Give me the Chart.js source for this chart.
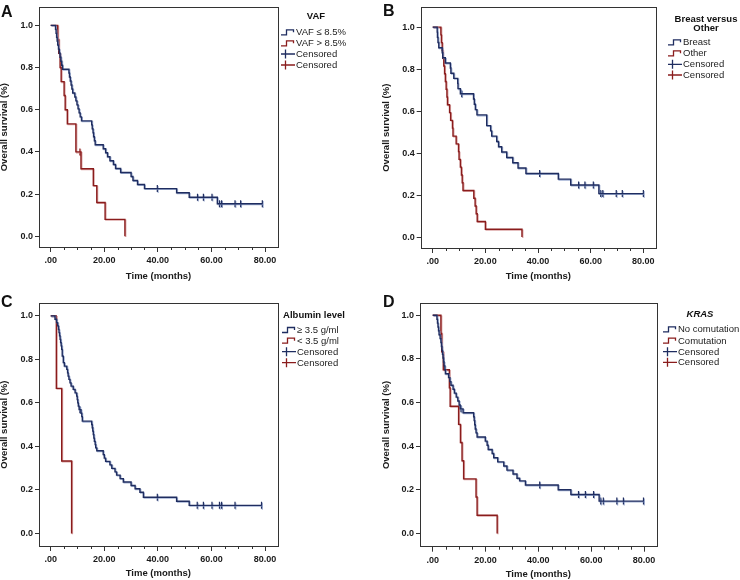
<!DOCTYPE html>
<html>
<head>
<meta charset="utf-8">
<script src="https://cdn.jsdelivr.net/npm/chart.js@4.4.0/dist/chart.umd.min.js"></script>
<style>
body { margin: 0; background: #fff; }
#wrap { position: relative; width: 740px; height: 580px; }
canvas { position: absolute; }
</style>
</head>
<body>
<div id="wrap">
<canvas id="cA" width="370" height="290" style="left:0;top:0"></canvas>
<canvas id="cB" width="370" height="290" style="left:370px;top:0"></canvas>
<canvas id="cC" width="370" height="290" style="left:0;top:290px"></canvas>
<canvas id="cD" width="370" height="290" style="left:370px;top:290px"></canvas>
</div>
<script>
// ---- data (months, survival fraction) ----
var xTicks = [0, 20, 40, 60, 80];
var yTicks = [0, 0.2, 0.4, 0.6, 0.8, 1.0];

// A - VAF
var aTitle = ['VAF'];
var aLabels = ['VAF \u2264 8.5%', 'VAF > 8.5%', 'Censored', 'Censored'];
var aBlueTime = [1.8,2.0,2.2,2.4,2.6,2.9,3.2,3.5,3.8,4.1,4.4, 6.8,7.0,7.3,7.6,7.9,8.2,9.0,9.4,9.8,10.2,10.6,11.0,11.5, 15.3,15.5,15.8,16.0,16.3,16.6, 19.6,20.5,21.2,22.1,23.4,24.2,26.1, 30.0,30.7,32.4,35.0, 47.0,51.7,62.2];
var aBlueSurv = [0.981,0.962,0.943,0.925,0.906,0.887,0.868,0.849,0.830,0.811,0.792, 0.774,0.755,0.736,0.717,0.698,0.679,0.660,0.642,0.623,0.604,0.585,0.566,0.547, 0.528,0.509,0.491,0.472,0.453,0.434, 0.415,0.396,0.377,0.358,0.340,0.321,0.302, 0.283,0.264,0.245,0.226, 0.206,0.185,0.154];
var aBlueCens = [39.8,54.8,57.0,60.2,63.0,63.8,68.8,70.9,79.0];
var aRedTime = [2.6,3.0,3.5,3.9,5.0,5.4,6.2,9.4,11.3,15.9,17.2,20.3,27.7];
var aRedSurv = [0.933,0.867,0.800,0.733,0.667,0.600,0.533,0.400,0.320,0.240,0.160,0.080,0];
var aRedCens = [10.9];

// B - Breast versus Other
var bTitle = ['Breast versus', 'Other'];
var bLabels = ['Breast', 'Other', 'Censored', 'Censored'];
var bBlueTime = [1.7,1.8,2.0,2.3,3.6,3.8,4.8,6.7,6.9,8.0,9.5,9.6,10.5, 15.5,15.8,16.2,16.8, 20.5,22.0,22.4,24.3,25.0,26.2,28.1,30.4,32.4,35.4, 47.7,52.4,63.1];
var bBlueSurv = [0.976,0.951,0.927,0.902,0.878,0.854,0.829,0.805,0.780,0.756,0.732,0.707,0.683, 0.658,0.633,0.607,0.582, 0.531,0.506,0.481,0.455,0.430,0.405,0.379,0.354,0.329,0.303, 0.276,0.248,0.207];
var bBlueCens = [11.0,40.6,55.4,57.8,61.0,63.8,64.6,69.7,72.0,80.0];
var bRedTime = [3.1,3.3,3.6,3.8,4.2,4.5,4.8,5.1,5.4,5.6,6.4,6.8,7.5,7.7,8.9,9.8,10.0,10.5,10.9,11.2,11.5,15.6,16.1,16.5,16.9,20.0,33.9];
var bRedSurv = [0.963,0.926,0.889,0.852,0.815,0.778,0.741,0.704,0.667,0.630,0.593,0.556,0.519,0.481,0.444,0.407,0.370,0.333,0.296,0.259,0.222,0.185,0.148,0.111,0.074,0.037,0];
var bRedCens = [];

// C - Albumin level
var cTitle = ['Albumin level'];
var cLabels = ['\u2265 3.5 g/ml', '< 3.5 g/ml', 'Censored', 'Censored'];
var cBlueTime = [1.6,2.2,2.6,2.9,3.1,3.3,3.5,3.7,3.9,4.1,4.3,4.7,5.1, 6.0,6.3,6.5,6.8,7.2,7.6, 8.4,9.1,9.7,9.9,10.1,10.3,10.6, 11.3,11.6,11.8, 15.3,15.5,15.7,15.9,16.1,16.3,16.6,16.8,17.2, 19.6,20.0,20.5, 22.1,22.8,24.0,24.6,25.9,27.1,30.0,31.5,33.3,34.6, 47.0,51.7];
var cBlueSurv = [0.985,0.969,0.954,0.938,0.923,0.908,0.892,0.877,0.862,0.846,0.815,0.785,0.769, 0.754,0.738,0.723,0.708,0.692,0.677, 0.662,0.646,0.631,0.615,0.600,0.585,0.569, 0.553,0.537,0.516, 0.501,0.486,0.470,0.454,0.438,0.423,0.408,0.393,0.380, 0.362,0.346,0.331, 0.315,0.299,0.283,0.268,0.252,0.236,0.220,0.205,0.189,0.166, 0.148,0.129];
var cBlueCens = [10.9,39.8,54.7,57.0,60.2,63.0,63.8,68.8,78.7];
var cRedTime = [2.1,4.1,7.8];
var cRedSurv = [0.667,0.333,0];
var cRedCens = [];

// D - KRAS
var dTitle = ['KRAS'];
var dLabels = ['No comutation', 'Comutation', 'Censored', 'Censored'];
var dBlueTime = [1.6,1.8,2.0,2.2,2.4,2.8,3.1,3.3,3.5,3.7,3.9,4.1,4.3,4.6,4.8, 6.0,6.5,6.9,7.7,8.2,8.9,9.5,10.0,10.4, 11.5, 15.5,15.7,15.9,16.1,16.4,16.8, 19.9,20.6,21.0,22.5,23.1,24.6,26.9,28.1,30.4,31.9,32.9,35.1, 47.5,52.3,63.0];
var dBlueSurv = [0.982,0.964,0.946,0.929,0.911,0.893,0.875,0.857,0.839,0.821,0.804,0.786,0.768,0.750,0.732, 0.714,0.696,0.679,0.661,0.643,0.625,0.607,0.589,0.571, 0.553, 0.535,0.517,0.498,0.479,0.461,0.442, 0.423,0.404,0.385,0.366,0.347,0.328,0.309,0.290,0.272,0.253,0.241,0.222, 0.200,0.178,0.148];
var dBlueCens = [10.7,40.5,55.2,57.8,60.9,63.6,64.6,69.7,72.2,79.8];
var dRedTime = [3.1,3.4,4.0,6.3,6.6,9.8,10.5,11.1,11.7,16.4,16.8,24.4];
var dRedSurv = [0.917,0.833,0.750,0.667,0.583,0.500,0.417,0.333,0.250,0.167,0.083,0];
var dRedCens = [];

// ---- styling ----
var BLUE = '#1f2d60';
var RED = '#8a1c1c';
var FONT = '"Liberation Sans", Arial, sans-serif';

// step curve: starts at (0,1), ends at last event or last censor
function kmLine(times, surv, cens) {
    var pts = [{ x: 0, y: 1 }];
    for (var i = 0; i < times.length; i++) pts.push({ x: times[i], y: surv[i] });
    var lastS = surv.length ? surv[surv.length - 1] : 1;
    var endT = pts[pts.length - 1].x;
    cens.forEach(function (c) { if (c > endT) endT = c; });
    if (endT > pts[pts.length - 1].x) pts.push({ x: endT, y: lastS });
    return pts;
}
function survAt(times, surv, t) {
    var s = 1;
    for (var i = 0; i < times.length; i++) if (times[i] <= t) s = surv[i];
    return s;
}
function censPoints(times, surv, cens) {
    return cens.map(function (c) { return { x: c, y: survAt(times, surv, c) }; });
}

// frame, minor ticks, panel letter, legend
var kmDecor = {
    id: 'kmDecor',
    beforeDatasetDraw: function (chart, args) {
        var ctx = chart.ctx;
        ctx.save();
        ctx.shadowColor = (args.index % 2 === 0) ? 'rgba(130,150,195,0.75)' : 'rgba(205,135,135,0.75)';
        ctx.shadowOffsetX = 0.8;
        ctx.shadowOffsetY = 0.8;
        ctx.shadowBlur = 0;
    },
    afterDatasetDraw: function (chart) { chart.ctx.restore(); },
    afterDraw: function (chart, args, o) {
        var ctx = chart.ctx, a = chart.chartArea, xs = chart.scales.x;
        ctx.save();
        ctx.strokeStyle = '#333';
        ctx.lineWidth = 1;
        ctx.strokeRect(Math.round(a.left) + 0.5, Math.round(a.top) + 0.5,
            Math.round(a.right - a.left), Math.round(a.bottom - a.top));
        // minor ticks every 5 months
        ctx.beginPath();
        for (var v = 5; v < 80; v += 5) {
            if (v % 20 === 0) continue;
            var px = Math.round(xs.getPixelForValue(v)) + 0.5;
            ctx.moveTo(px, a.bottom);
            ctx.lineTo(px, a.bottom + 3);
        }
        ctx.stroke();
        // panel letter
        ctx.fillStyle = '#111';
        ctx.font = 'bold 16px ' + FONT;
        ctx.textAlign = 'left';
        ctx.textBaseline = 'alphabetic';
        ctx.fillText(o.letter, o.letterX, o.letterY);
        // legend title
        ctx.font = (o.italic ? 'italic ' : '') + 'bold 9.5px ' + FONT;
        ctx.textAlign = 'center';
        ctx.textBaseline = 'middle';
        o.title.forEach(function (t, i) { ctx.fillText(t, o.titleX, o.titleY[i]); });
        // legend rows
        ctx.font = '9.5px ' + FONT;
        ctx.textAlign = 'left';
        var cols = [BLUE, RED, BLUE, RED];
        for (var i = 0; i < 4; i++) {
            var y = o.rows[i], x0 = o.iconX;
            ctx.strokeStyle = cols[i];
            ctx.lineWidth = 1.3;
            ctx.beginPath();
            if (i < 2) {
                ctx.moveTo(x0, y + 2.5);
                ctx.lineTo(x0 + 5.5, y + 2.5);
                ctx.lineTo(x0 + 5.5, y - 2.5);
                ctx.lineTo(x0 + 12.5, y - 2.5);
                ctx.lineTo(x0 + 12.5, y);
            } else {
                ctx.moveTo(x0, y);
                ctx.lineTo(x0 + 14, y);
                ctx.moveTo(x0 + 4.5, y - 4.5);
                ctx.lineTo(x0 + 4.5, y + 4.5);
            }
            ctx.stroke();
            ctx.fillStyle = '#222';
            ctx.fillText(o.labels[i], o.textX, y + 0.5);
        }
        ctx.restore();
    }
};

function makePanel(id, p, blueT, blueS, blueC, redT, redS, redC) {
    var lineDs = function (pts, col) {
        return { data: pts, borderColor: col, borderWidth: 1.4, stepped: 'before',
                 pointRadius: 0, fill: false, tension: 0 };
    };
    var censDs = function (pts, col) {
        return { data: pts, showLine: false, borderColor: col, backgroundColor: col,
                 pointStyle: 'line', rotation: 90, pointRadius: 3.5, pointBorderWidth: 1.2 };
    };
    var tickFont = { family: FONT, size: 9, weight: 'bold' };
    var titleFont = { family: FONT, size: 9.5, weight: 'bold', lineHeight: 1 };
    return new Chart(document.getElementById(id), {
        type: 'line',
        data: {
            datasets: [
                lineDs(kmLine(blueT, blueS, blueC), BLUE),
                lineDs(kmLine(redT, redS, redC), RED),
                censDs(censPoints(blueT, blueS, blueC), BLUE),
                censDs(censPoints(redT, redS, redC), RED)
            ]
        },
        options: {
            responsive: false,
            animation: false,
            events: [],
            layout: { padding: { top: p.area.t, right: 370 - p.area.r, left: 0, bottom: 0 } },
            plugins: { legend: { display: false }, tooltip: { enabled: false }, kmDecor: p.legend },
            scales: {
                x: {
                    type: 'linear', min: p.xMin, max: p.xMax,
                    afterBuildTicks: function (s) { s.ticks = xTicks.map(function (v) { return { value: v }; }); },
                    afterFit: function (s) { s.height = 290 - p.area.b; },
                    ticks: {
                        font: tickFont, color: '#1a1a1a', padding: 3, maxRotation: 0, autoSkip: false,
                        callback: function (v) { return v === 0 ? '.00' : v.toFixed(2); }
                    },
                    grid: { drawOnChartArea: false, drawTicks: true, tickLength: 5, tickColor: '#333' },
                    border: { display: false },
                    title: { display: true, text: 'Time (months)', font: titleFont, color: '#1a1a1a',
                             padding: { top: 0, bottom: p.xTitlePad } }
                },
                y: {
                    type: 'linear', min: p.yMin, max: p.yMax,
                    afterBuildTicks: function (s) { s.ticks = yTicks.map(function (v) { return { value: v }; }); },
                    afterFit: function (s) { s.width = p.area.l; },
                    ticks: {
                        font: tickFont, color: '#1a1a1a', padding: 2,
                        callback: function (v) { return v.toFixed(1); }
                    },
                    grid: { drawOnChartArea: false, drawTicks: true, tickLength: 4, tickColor: '#333' },
                    border: { display: false },
                    title: { display: true, text: 'Overall survival (%)', font: titleFont, color: '#1a1a1a',
                             padding: { top: p.yTitlePad, bottom: 0 } }
                }
            }
        },
        plugins: [kmDecor]
    });
}

makePanel('cA', {
    area: { l: 39, r: 278, t: 3, b: 247 }, xMin: -4.37, xMax: 84.85, yMin: -0.051, yMax: 1.085,
    yTitlePad: 0, xTitlePad: 8.7,
    legend: { letter: 'A', letterX: 1, letterY: 17, title: aTitle, italic: false, titleX: 316, titleY: [16],
              iconX: 281, textX: 296, rows: [32.3, 43.3, 54, 65], labels: aLabels }
}, aBlueTime, aBlueSurv, aBlueCens, aRedTime, aRedSurv, aRedCens);

makePanel('cB', {
    area: { l: 50.7, r: 286, t: 1, b: 248 }, xMin: -4.56, xMax: 84.8, yMin: -0.052, yMax: 1.094,
    yTitlePad: 11.3, xTitlePad: 8.7,
    legend: { letter: 'B', letterX: 13, letterY: 16, title: bTitle, italic: false, titleX: 336, titleY: [19.5, 28],
              iconX: 298, textX: 313, rows: [42.3, 53.3, 64.3, 75], labels: bLabels }
}, bBlueTime, bBlueSurv, bBlueCens, bRedTime, bRedSurv, bRedCens);

makePanel('cC', {
    area: { l: 39, r: 277.7, t: 13.3, b: 256 }, xMin: -4.37, xMax: 84.74, yMin: -0.058, yMax: 1.058,
    yTitlePad: 0, xTitlePad: 1.7,
    legend: { letter: 'C', letterX: 1, letterY: 16.5, title: cTitle, italic: false, titleX: 314, titleY: [25],
              iconX: 282, textX: 297, rows: [40, 50.7, 61.7, 72.7], labels: cLabels }
}, cBlueTime, cBlueSurv, cBlueCens, cRedTime, cRedSurv, cRedCens);

makePanel('cD', {
    area: { l: 50, r: 286.7, t: 13.3, b: 256.7 }, xMin: -4.81, xMax: 84.8, yMin: -0.061, yMax: 1.055,
    yTitlePad: 11.3, xTitlePad: 0.8,
    legend: { letter: 'D', letterX: 13, letterY: 17, title: dTitle, italic: true, titleX: 330, titleY: [24],
              iconX: 293, textX: 308, rows: [39.3, 50.7, 61.7, 72.3], labels: dLabels }
}, dBlueTime, dBlueSurv, dBlueCens, dRedTime, dRedSurv, dRedCens);
</script>
</body>
</html>
